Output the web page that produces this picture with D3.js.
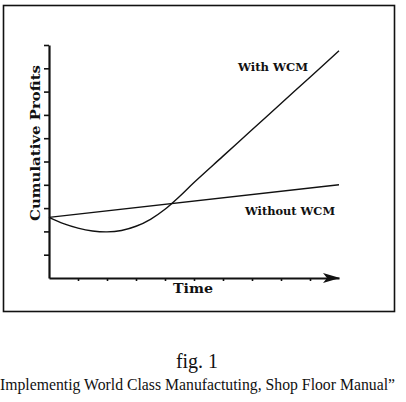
<!DOCTYPE html>
<html>
<head>
<meta charset="utf-8">
<script src="https://cdnjs.cloudflare.com/ajax/libs/d3/7.8.5/d3.min.js"></script>
<style>
  body { margin: 0; background: #fff; }
  svg { display: block; }
</style>
</head>
<body>
<script>
// time steps and cumulative profit (arbitrary units)
let time = [0, 0.5, 1, 1.5, 2, 2.5, 3, 3.5, 4, 4.5, 5, 6, 7, 8, 9, 10];
let withWCM = [2.6, 2.33, 2.14, 2.02, 1.98, 2.04, 2.22, 2.52, 2.95, 3.5, 4.1, 5.23, 6.36, 7.49, 8.62, 9.75];
let timeWithout = [0, 10];
let withoutWCM = [2.6, 4.0];
let xTicks = [1, 2, 3, 4, 5, 6, 7, 8, 9];
let yTicks = [1, 2, 3, 4, 5, 6, 7, 8, 9, 10];

let svgWidth = 406, svgHeight = 402;

let svg = d3.select('body').append('svg')
    .attr('width', svgWidth).attr('height', svgHeight)

let labelFont = 'DejaVu Serif'

// outer frame
svg.append('rect')
    .attr('x', 3.5).attr('y', 5.5)
    .attr('width', 391).attr('height', 306)
    .attr('fill', 'none').attr('stroke', '#111').attr('stroke-width', 1.6)

let xScale = d3.scaleLinear().domain([0, 10]).range([49, 339])
let yScale = d3.scaleLinear().domain([0, 10]).range([278, 45])

let y_axis = d3.axisLeft(yScale).tickValues(yTicks).tickFormat('').tickSize(5).tickSizeOuter(0)
let x_axis = d3.axisBottom(xScale).tickValues(xTicks).tickFormat('').tickSize(3).tickSizeOuter(0)

let yG = svg.append('g').attr('transform', 'translate(' + xScale(0) + ',0)').call(y_axis)
let xG = svg.append('g').attr('transform', 'translate(0,' + yScale(0) + ')').call(x_axis)

yG.select('.domain').attr('stroke', '#111').attr('stroke-width', 2.2)
xG.select('.domain').attr('stroke', '#111').attr('stroke-width', 2.2)
svg.selectAll('.tick line').attr('stroke', '#111').attr('stroke-width', 1.6)

// arrow head on time axis
let ax = xScale(10), ay = yScale(0)
svg.append('path')
    .attr('d', 'M' + (ax - 16) + ',' + (ay - 5) + 'L' + (ax + 1) + ',' + ay + 'L' + (ax - 16) + ',' + (ay + 5) + 'L' + (ax - 12) + ',' + ay + 'Z')
    .attr('fill', '#111')

let line = d3.line()
    .x(d => xScale(d[0]))
    .y(d => yScale(d[1]))

svg.append('path')
    .datum(time.map((t, i) => [t, withWCM[i]]))
    .attr('d', line.curve(d3.curveCatmullRom.alpha(0.5)))
    .attr('fill', 'none').attr('stroke', '#111').attr('stroke-width', 1.4)

svg.append('path')
    .datum(timeWithout.map((t, i) => [t, withoutWCM[i]]))
    .attr('d', d3.line().x(d => xScale(d[0])).y(d => yScale(d[1])))
    .attr('fill', 'none').attr('stroke', '#111').attr('stroke-width', 1.4)

// labels
svg.append('text').text('With WCM')
    .attr('x', 238).attr('y', 71)
    .attr('textLength', 70).attr('lengthAdjust', 'spacingAndGlyphs')
    .style('font', 'bold 10.5px "' + labelFont + '"').attr('fill', '#111')

svg.append('text').text('Without WCM')
    .attr('x', 245).attr('y', 215)
    .attr('textLength', 90).attr('lengthAdjust', 'spacingAndGlyphs')
    .style('font', 'bold 10.5px "' + labelFont + '"').attr('fill', '#111')

svg.append('text').text('Time')
    .attr('x', 173).attr('y', 293)
    .attr('textLength', 40).attr('lengthAdjust', 'spacingAndGlyphs')
    .style('font', 'bold 12px "' + labelFont + '"').attr('fill', '#111')

svg.append('text').text('Cumulative Profits')
    .attr('transform', 'translate(40,221) rotate(-90)')
    .attr('textLength', 156).attr('lengthAdjust', 'spacingAndGlyphs')
    .style('font', 'bold 13px "' + labelFont + '"').attr('fill', '#111')

// caption
svg.append('text').text('fig. 1')
    .attr('x', 197).attr('y', 368).attr('text-anchor', 'middle')
    .style('font', '20px "Liberation Serif"').attr('fill', '#111')

svg.append('text').text('Implementig World Class Manufactuting, Shop Floor Manual\u201d')
    .attr('x', 0).attr('y', 390)
    .attr('textLength', 395).attr('lengthAdjust', 'spacingAndGlyphs')
    .style('font', '16px "Liberation Serif"').attr('fill', '#111')
</script>
</body>
</html>
